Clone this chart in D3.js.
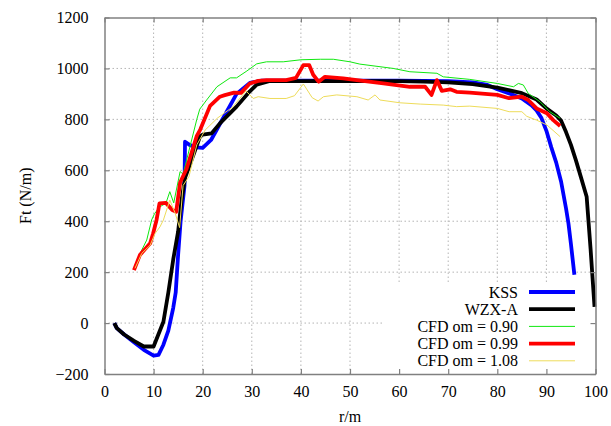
<!DOCTYPE html>
<html>
<head>
<meta charset="utf-8">
<script src="https://cdn.jsdelivr.net/npm/d3@7"></script>
<style>
  body { margin: 0; background: #fff; }
  text { font-family: "Liberation Serif", "DejaVu Serif", serif; }
</style>
</head>
<body>
<svg id="chart" width="611" height="426"></svg>
<script>
// Valeurs : [r (m), Ft (N/m)]
const kss = [
  [2, 0], [2.5, -20], [4, -45], [6, -75], [8, -105], [10, -128], [11, -125],
  [12, -85], [13, -30], [14, 60], [14.5, 120], [15, 270], [15.5, 400],
  [16.3, 540], [16.4, 712], [17.4, 699], [18.8, 690], [20, 688], [21.7, 719],
  [24.6, 820], [26.9, 900], [29.6, 943], [32, 952], [40, 952], [50, 952],
  [60, 952], [70, 950], [75, 945], [78, 935], [80, 918], [83, 898], [85, 882],
  [87, 855], [88, 835], [89, 805], [90, 755], [91, 690], [92, 630], [93, 555],
  [94, 450], [94.5, 390], [95, 310], [95.7, 190]
];
const wzxA = [
  [2, 0], [2.5, -20], [4, -45], [6, -70], [8, -92], [10, -92], [12, 5],
  [13, 120], [14, 250], [15, 360], [15.7, 483], [16.4, 570], [18.1, 660],
  [19.5, 735], [20, 740], [21.8, 745], [23.5, 784], [26.9, 850], [29.6, 910],
  [31, 936], [33.5, 950], [40, 950], [50, 950], [60, 950], [65, 948],
  [70, 945], [75, 938], [80, 925], [85, 903], [88, 878], [90, 843], [92, 815],
  [93, 795], [94, 750], [95, 700], [96, 640], [97, 575], [98.2, 496],
  [99, 290], [99.8, 64]
];
const cfd090 = [
  [6.9, 260], [8.6, 326], [9.6, 405], [10.2, 430], [11.3, 457], [12.5, 470],
  [13.3, 516], [14.1, 472], [15.4, 595], [16, 585], [17.4, 692], [18.8, 800],
  [19.4, 840], [20.8, 876], [22.9, 928], [25.6, 963], [26.9, 963], [29, 990],
  [31, 1018], [33, 1026], [36.4, 1026], [40, 1034], [44, 1036], [46.6, 1036],
  [50, 1026], [52, 1017], [58.8, 1000], [62.2, 987], [67.7, 981], [69, 967],
  [74.4, 957], [80, 941], [83.3, 928], [84.3, 941], [85.3, 935], [86.3, 902],
  [88.7, 869], [90.7, 830], [92.8, 804]
];
const cfd099 = [
  [6, 208], [7.2, 267], [9.3, 313], [9.9, 352], [10.6, 405], [11.2, 470],
  [12.5, 472], [13.8, 444], [14.6, 437], [15.4, 552], [16.7, 605],
  [18.8, 735], [19.5, 760], [21.5, 853], [23.5, 889], [24.5, 895],
  [26.4, 905], [27.8, 904], [29.6, 941], [31.3, 951], [33, 954], [37, 954],
  [39, 963], [40.5, 1013], [41.7, 1013], [42.5, 975], [43.6, 948],
  [44.9, 967], [48.6, 961], [51.4, 954], [56.8, 941], [62.2, 928],
  [65.3, 928], [66.6, 896], [67.7, 954], [68.7, 912], [70.4, 918],
  [71.7, 908], [74.4, 905], [80, 896], [82.4, 883], [85, 889], [86.3, 876],
  [88, 843], [90.1, 824], [91.4, 797], [92.8, 774]
];
const cfd108 = [
  [6.2, 215], [7.6, 274], [9.3, 306], [10.3, 352], [11.3, 378], [12, 405],
  [13.3, 483], [14.4, 431], [15.3, 375], [16, 540], [17.2, 575], [18.8, 700],
  [20.5, 758], [23, 805], [26.2, 850], [28.8, 912], [30.3, 882], [31.3, 889],
  [33.7, 882], [37, 882], [38.7, 893], [40.5, 939], [42.3, 885], [43.5, 872],
  [44.6, 889], [47.3, 896], [51.4, 889], [53.7, 876], [55.1, 896],
  [56.1, 876], [60.2, 865], [64.3, 860], [69, 856], [71.7, 850], [74.4, 852],
  [80, 843], [82.4, 830], [85, 830], [86, 812], [88, 797], [90.1, 778],
  [92.8, 732]
];

const xTicks = [0, 10, 20, 30, 40, 50, 60, 70, 80, 90, 100];
const yTicks = [-200, 0, 200, 400, 600, 800, 1000, 1200];
const legendLabels = ["KSS", "WZX-A", "CFD om = 0.90", "CFD om = 0.99", "CFD om = 1.08"];

const series = [
  { data: kss, color: "#0000ff", width: 3.8 },
  { data: wzxA, color: "#000000", width: 3.8 },
  { data: cfd090, color: "#10e810", width: 1 },
  { data: cfd099, color: "#ff0000", width: 3.8 },
  { data: cfd108, color: "#eedc5a", width: 1 }
];

const svg = d3.select("#chart");
const margin = { left: 104.5, right: 15.5, top: 17.5, bottom: 52 };
const width = +svg.attr("width"), height = +svg.attr("height");
const x = d3.scaleLinear().domain([0, 100]).range([margin.left, width - margin.right]);
const y = d3.scaleLinear().domain([-200, 1200]).range([height - margin.bottom, margin.top]);

// Grille pointillée
const grid = svg.append("g").attr("stroke", "#b4b4b4").attr("stroke-width", 1)
  .attr("stroke-dasharray", "1.5,2.5");
grid.selectAll(".gx").data(xTicks.slice(1, -1)).enter().append("line")
  .attr("x1", d => x(d)).attr("x2", d => x(d))
  .attr("y1", y.range()[0]).attr("y2", y.range()[1]);
grid.selectAll(".gy").data(yTicks.slice(1, -1)).enter().append("line")
  .attr("x1", x.range()[0]).attr("x2", x.range()[1])
  .attr("y1", d => y(d)).attr("y2", d => y(d));

// Fond de la légende (cache la grille)
svg.append("rect").attr("x", 384).attr("y", 282)
  .attr("width", x(100) - 384).attr("height", y(-200) - 282).attr("fill", "#fff");

// Courbes
const line = d3.line().x(d => x(d[0])).y(d => y(d[1]));
svg.selectAll(".curve").data(series).enter().append("path")
  .attr("class", "curve")
  .attr("fill", "none")
  .attr("stroke", d => d.color)
  .attr("stroke-width", d => d.width)
  .attr("stroke-linejoin", "round")
  .attr("d", d => line(d.data));

// Axes (ticks vers l'intérieur, sur les quatre côtés)
const axisColor = "#808080";
const tickFont = 16;
const gBottom = svg.append("g").attr("transform", `translate(0,${y(-200)})`)
  .call(d3.axisBottom(x).tickValues(xTicks).tickSizeInner(-5).tickSizeOuter(0).tickPadding(12));
const gTop = svg.append("g").attr("transform", `translate(0,${y(1200)})`)
  .call(d3.axisTop(x).tickValues(xTicks).tickSizeInner(-5).tickSizeOuter(0).tickFormat(""));
const gLeft = svg.append("g").attr("transform", `translate(${x(0)},0)`)
  .call(d3.axisLeft(y).tickValues(yTicks).tickSizeInner(-5).tickSizeOuter(0).tickPadding(16));
const gRight = svg.append("g").attr("transform", `translate(${x(100)},0)`)
  .call(d3.axisRight(y).tickValues(yTicks).tickSizeInner(-5).tickSizeOuter(0).tickFormat(""));

[gBottom, gTop, gLeft, gRight].forEach(g => {
  g.select(".domain").attr("stroke", axisColor).attr("stroke-width", 1.5);
  g.selectAll(".tick line").attr("stroke", axisColor).attr("stroke-width", 1.2);
  g.selectAll("text").attr("font-size", tickFont)
    .attr("font-family", "'Liberation Serif', serif").attr("fill", "#000");
});
gLeft.selectAll("text").text(d => d < 0 ? "\u2212" + Math.abs(d) : d);

// Titres des axes
svg.append("text").attr("x", x(50)).attr("y", 422)
  .attr("text-anchor", "middle").attr("font-size", tickFont).text("r/m");
svg.append("text")
  .attr("transform", `translate(31,${(y(-200) + y(1200)) / 2}) rotate(-90)`)
  .attr("text-anchor", "middle").attr("font-size", tickFont).text("Ft (N/m)");

// Légende
const legend = svg.append("g");
const rowY = i => 292 + i * 17.2;
legend.selectAll("text").data(legendLabels).enter().append("text")
  .attr("x", 518).attr("y", (d, i) => rowY(i))
  .attr("dy", "0.35em").attr("text-anchor", "end")
  .attr("font-size", tickFont).text(d => d);
legend.selectAll("line").data(series).enter().append("line")
  .attr("x1", 529).attr("x2", 575)
  .attr("y1", (d, i) => rowY(i)).attr("y2", (d, i) => rowY(i))
  .attr("stroke", d => d.color).attr("stroke-width", d => d.width);
</script>
</body>
</html>
